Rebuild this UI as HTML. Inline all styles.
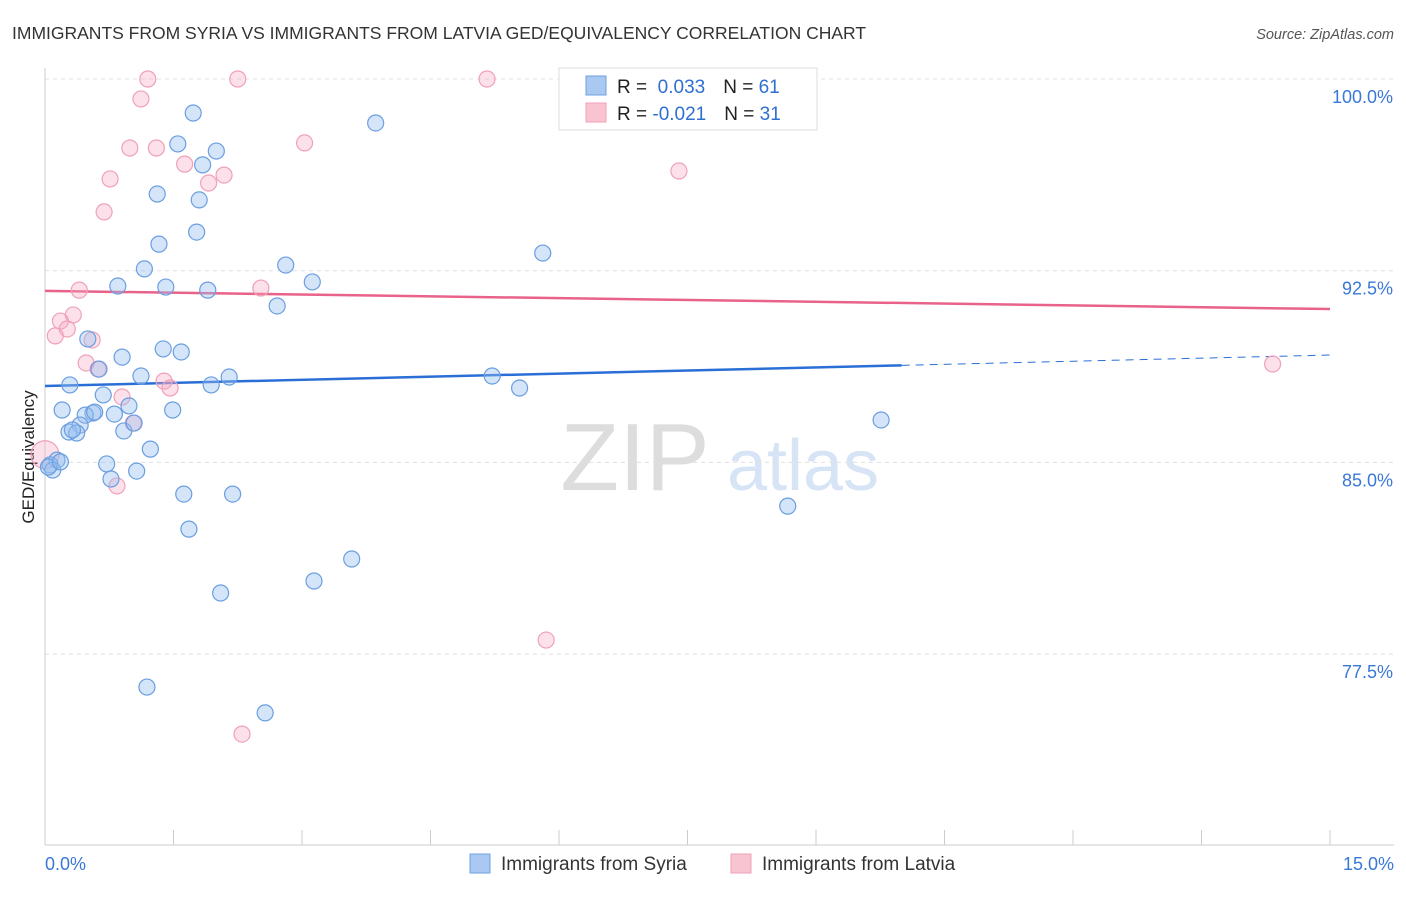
<!DOCTYPE html>
<html><head><meta charset="utf-8">
<style>
body{margin:0;background:#fff;font-family:"Liberation Sans",sans-serif;}
svg text{font-family:"Liberation Sans",sans-serif;}
</style></head>
<body>
<svg id="chart" width="1406" height="892" xmlns="http://www.w3.org/2000/svg">
<text x="12" y="39" font-size="17.5" fill="#333">IMMIGRANTS FROM SYRIA VS IMMIGRANTS FROM LATVIA GED/EQUIVALENCY CORRELATION CHART</text>
<text x="1394" y="39" font-size="14.5" fill="#555" font-style="italic" text-anchor="end">Source: ZipAtlas.com</text>
<text transform="translate(34,457) rotate(-90)" font-size="17" fill="#222" text-anchor="middle">GED/Equivalency</text>
<g>
<text x="635" y="490" font-size="96" fill="#ddd" font-family="Liberation Serif" text-anchor="middle">ZIP</text>
<text x="803" y="490" font-size="72" fill="#d6e4f5" text-anchor="middle">atlas</text>
</g>
<g id="grid"></g>
<g id="axes"></g>
<g id="trend"></g>
<g id="points"></g>
<g>
<rect x="559" y="68" width="258" height="62" fill="#fff" stroke="#ddd"/>
<rect x="586" y="76" width="20" height="19" fill="#a9c8f2" stroke="#6fa0e0"/>
<rect x="586" y="103" width="20" height="19" fill="#f8c4d2" stroke="#f0a0b8"/>
<text x="617" y="93" font-size="19" fill="#222">R = <tspan fill="#2f6fd0">&#160;0.033</tspan><tspan dx="18" fill="#222">N = </tspan><tspan fill="#2f6fd0">61</tspan></text>
<text x="617" y="120" font-size="19" fill="#222">R = <tspan fill="#2f6fd0">-0.021</tspan><tspan dx="18" fill="#222">N = </tspan><tspan fill="#2f6fd0">31</tspan></text>
</g>
<g>
<rect x="470" y="854" width="20" height="19" fill="#a9c8f2" stroke="#6fa0e0"/>
<text x="501" y="870" font-size="19" fill="#333">Immigrants from Syria</text>
<rect x="731" y="854" width="20" height="19" fill="#f8c4d2" stroke="#f0a0b8"/>
<text x="762" y="870" font-size="19" fill="#333">Immigrants from Latvia</text>
</g>
</svg>
<script>
const yTicks=[100,92.5,85,77.5];
const yTickLabels=["100.0%","92.5%","85.0%","77.5%"];
const xTickLabels=["0.0%","15.0%"];
const syriaX=[1.73,3.86,1.55,2.00,1.84,1.31,1.80,1.77,1.33,5.81,1.16,2.81,3.12,0.85,1.41,1.90,2.71,0.50,0.90,1.38,1.59,0.63,1.12,0.29,1.94,2.15,5.22,5.54,0.68,0.20,0.98,1.49,0.56,0.47,0.81,0.41,0.28,0.37,0.92,1.04,1.23,9.76,0.72,0.14,0.06,0.09,1.07,0.77,1.62,2.19,8.67,1.68,3.58,3.14,2.05,1.19,2.57,0.04,0.32,0.58,0.18];
const syriaY=[98.67,98.28,97.46,97.18,96.64,95.50,95.27,94.01,93.54,93.19,92.57,92.72,92.06,91.90,91.86,91.74,91.12,89.83,89.12,89.44,89.32,88.65,88.38,88.03,88.03,88.34,88.38,87.91,87.64,87.05,87.21,87.05,86.93,86.85,86.89,86.46,86.19,86.15,86.23,86.54,85.52,86.66,84.94,85.09,84.90,84.70,84.66,84.35,83.76,83.76,83.29,82.39,81.22,80.36,79.89,76.21,75.20,84.82,86.27,86.97,85.02];
const latviaX=[1.20,2.25,5.16,1.12,0.99,1.30,3.03,1.63,2.09,0.76,1.91,0.69,7.40,0.40,2.52,0.33,0.18,0.26,0.12,0.55,0.48,0.62,1.39,1.46,0.90,1.03,0.84,5.85,2.30,14.33,0.0];
const latviaY=[100,100,100,99.22,97.30,97.30,97.50,96.67,96.24,96.09,95.93,94.80,96.40,91.74,91.82,90.77,90.53,90.22,89.95,89.79,88.89,88.65,88.18,87.91,87.56,86.54,84.08,78.05,74.37,88.85,85.3];
const syriaTrend=[87.99,89.20];
const latviaTrend=[91.71,91.0];
const NS="http://www.w3.org/2000/svg";
const X0=45,X1=1330,Y0=79,YPER=25.56;
function sx(v){return X0+(v-0)/15*(X1-X0);}
function sy(v){return Y0+(100-v)*YPER;}
function mk(tag,attrs,parent){const e=document.createElementNS(NS,tag);for(const k in attrs)e.setAttribute(k,attrs[k]);parent.appendChild(e);return e;}
const grid=document.getElementById('grid'),axes=document.getElementById('axes'),trend=document.getElementById('trend'),pts=document.getElementById('points');
let tl=mk('line',{x1:45,x2:1394,y1:Y0,y2:Y0,stroke:'#e0e0e0','stroke-dasharray':'4,4'},grid);


yTicks.forEach((t,i)=>{
 const g=mk('line',{x1:45,x2:1394,y1:sy(t),y2:sy(t),stroke:'#e0e0e0','stroke-dasharray':'4,4'},grid);
 
 
 const t2=mk('text',{x:1393,y:sy(t)+24,'font-size':18,fill:'#3a78d8','text-anchor':'end'},axes);
 t2.textContent=yTickLabels[i];
 
 
});
let ya=mk('line',{x1:45,x2:45,y1:68,y2:845,stroke:'#ccc'},axes);


let xa=mk('line',{x1:45,x2:1394,y1:845,y2:845,stroke:'#ccc'},axes);


for(let i=0;i<=10;i++){
 const tk=mk('line',{x1:sx(i*1.5),x2:sx(i*1.5),y1:830,y2:845,stroke:'#ccc'},axes);
 
 
}
[[0,'start',45],[15,'end',1394]].forEach((d,i)=>{
 const t=mk('text',{x:d[2],y:870,'font-size':18,fill:'#3a78d8','text-anchor':d[1]},axes);
 t.textContent=xTickLabels[i];
 
 
});
function drawPts(xs,ys,fill,stroke,name){
 xs.forEach((x,i)=>{
  const big=(x===0&&name==='latvia-point');
  const c=mk('circle',{cx:sx(x),cy:sy(ys[i]),r:big?14:8,fill:fill,stroke:stroke,'stroke-width':1.2},pts);
  
  
 });
}
drawPts(latviaX,latviaY,'rgba(245,170,195,0.35)','#f0a0b8','latvia-point');
drawPts(syriaX,syriaY,'rgba(150,190,240,0.4)','#6a9ee0','syria-point');
const bSplit=10;
const bMid=syriaTrend[0]+(syriaTrend[1]-syriaTrend[0])*bSplit/15;
let b1=mk('line',{x1:sx(0),y1:sy(syriaTrend[0]),x2:sx(bSplit),y2:sy(bMid),stroke:'#2a6fd6','stroke-width':2.5},trend);


let b2=mk('line',{x1:sx(bSplit),y1:sy(bMid),x2:sx(15),y2:sy(syriaTrend[1]),stroke:'#2a6fd6','stroke-width':1,'stroke-dasharray':'8,6'},trend);


let p1=mk('line',{x1:sx(0),y1:sy(latviaTrend[0]),x2:sx(15),y2:sy(latviaTrend[1]),stroke:'#e8628a','stroke-width':2.5},trend);


</script>
</body></html>
